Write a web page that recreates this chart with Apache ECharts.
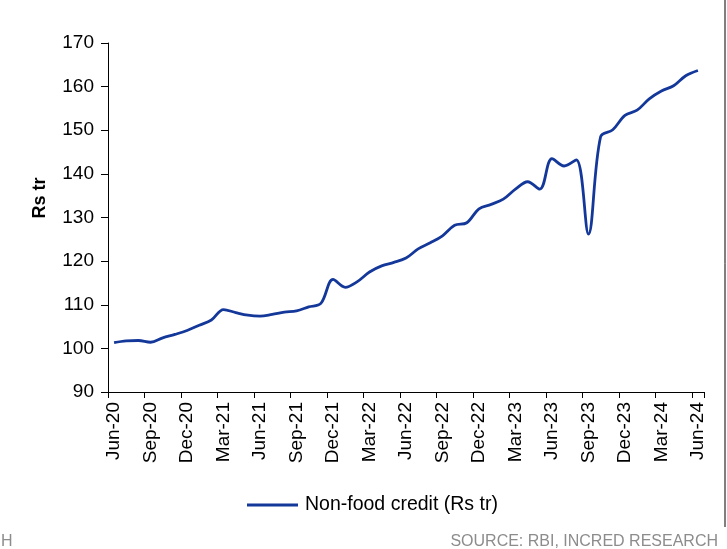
<!DOCTYPE html>
<html>
<head>
<meta charset="utf-8">
<script src="https://cdn.jsdelivr.net/npm/echarts@6/dist/echarts.min.js"></script>
<style>html,body{margin:0;padding:0;background:#fff;}#c{width:727px;height:549px;}</style>
</head>
<body>
<div id="c"></div>
<script>
const months = ['Jun-20','Jul-20','Aug-20','Sep-20','Oct-20','Nov-20','Dec-20','Jan-21','Feb-21','Mar-21','Apr-21','May-21',
  'Jun-21','Jul-21','Aug-21','Sep-21','Oct-21','Nov-21','Dec-21','Jan-22','Feb-22','Mar-22','Apr-22','May-22',
  'Jun-22','Jul-22','Aug-22','Sep-22','Oct-22','Nov-22','Dec-22','Jan-23','Feb-23','Mar-23','Apr-23','May-23',
  'Jun-23','Jul-23','Aug-23','Sep-23','Oct-23','Nov-23','Dec-23','Jan-24','Feb-24','Mar-24','Apr-24','May-24','Jun-24'];
const nonFoodCredit = [101.3,101.7,101.8,101.4,102.4,103.2,104.1,105.3,106.5,108.9,108.2,107.6,
  107.4,107.8,108.3,108.6,109.5,110.3,115.8,114.0,115.3,117.5,118.9,119.7,
  120.7,122.8,124.2,125.8,128.2,128.8,132.0,133.0,134.2,136.5,138.2,136.5,
  143.5,141.8,143.2,126.2,148.5,150.1,153.4,154.6,157.2,159.0,160.2,162.5,163.7];
const yTicks = [90,100,110,120,130,140,150,160,170];
const seriesName = 'Non-food credit (Rs tr)';
const yTitle = 'Rs tr';
const sourceText = 'SOURCE: RBI, INCRED RESEARCH';

const chart = echarts.init(document.getElementById('c'));
const font = 'Liberation Sans, Arial, sans-serif';
chart.setOption({
  animation: false,
  backgroundColor: '#fff',
  grid: {left: 108, right: 23, top: 43, bottom: 157},
  legend: {
    data: [seriesName], left: 247, top: 495, padding: 0,
    icon: 'rect', itemWidth: 51, itemHeight: 3, itemGap: 0,
    textStyle: {fontFamily: font, fontSize: 19.5, color: '#000', padding: [0,0,0,2]}
  },
  xAxis: {
    type: 'category', data: months, boundaryGap: true,
    axisLine: {lineStyle: {color: '#000', width: 1}},
    axisTick: {show: true, interval: 2, length: 6, lineStyle: {color: '#000'}},
    axisLabel: {interval: 2, rotate: 90, fontFamily: font, fontSize: 19, color: '#000', margin: 10}
  },
  yAxis: {
    type: 'value', min: yTicks[0], max: yTicks[yTicks.length-1], interval: 10,
    axisLine: {show: true, lineStyle: {color: '#000', width: 1}},
    axisTick: {show: true, length: 7, lineStyle: {color: '#000'}},
    splitLine: {show: false},
    axisLabel: {fontFamily: font, fontSize: 19, color: '#000', margin: 14}
  },
  series: [{
    name: seriesName, type: 'line', data: nonFoodCredit, smooth: 0.35,
    symbol: 'none', lineStyle: {color: '#14389a', width: 2.8}, itemStyle: {color: '#14389a'}
  }],
  graphic: [
    {type: 'text', x: 40, y: 198, rotation: Math.PI/2,
      style: {text: yTitle, font: 'bold 18px Liberation Sans, Arial, sans-serif', fill: '#000', textAlign: 'center', textVerticalAlign: 'middle'}},
    {type: 'text', right: 9, top: 534,
      style: {text: sourceText, font: '16px Liberation Sans, Arial, sans-serif', fill: '#8c8c8c'}},
    {type: 'text', left: 1, top: 534,
      style: {text: 'H', font: '16px Liberation Sans, Arial, sans-serif', fill: '#8c8c8c'}},
    {type: 'line', shape: {x1: 725, y1: 0, x2: 725, y2: 527}, style: {stroke: '#000', lineWidth: 1}}
  ]
});
</script>
</body>
</html>
